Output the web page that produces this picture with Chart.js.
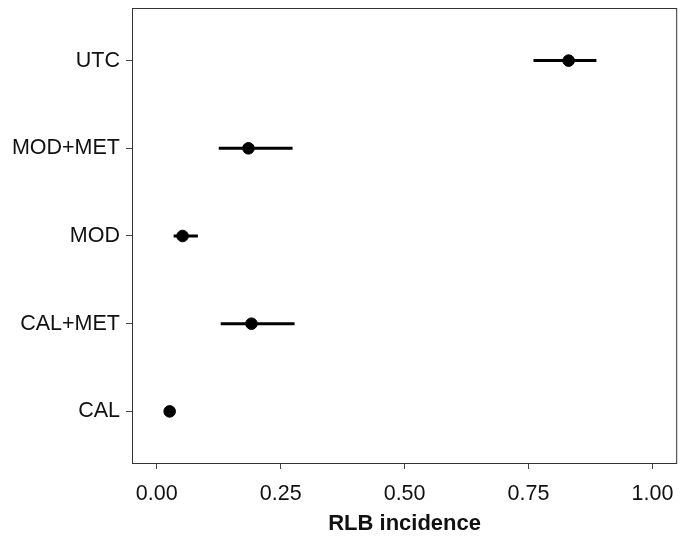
<!DOCTYPE html>
<html>
<head>
<meta charset="utf-8">
<script src="https://cdn.jsdelivr.net/npm/chart.js@4"></script>
<style>
  html, body { margin: 0; padding: 0; background: #fff; }
  #wrap { width: 684px; height: 546px; }
</style>
</head>
<body>
<div id="wrap"><canvas id="chart" width="684" height="546"></canvas></div>
<script>
'use strict';

// Gruppen von oben nach unten
const groups = ['UTC', 'MOD+MET', 'MOD', 'CAL+MET', 'CAL'];
// Punktschätzer und Intervallgrenzen (RLB incidence)
const estimate = [0.831, 0.185, 0.052, 0.191, 0.026];
const lower = [0.760, 0.125, 0.034, 0.129, 0.018];
const upper = [0.887, 0.274, 0.083, 0.278, 0.035];
const xTicks = [0, 0.25, 0.5, 0.75, 1];

// y-Position: oberste Gruppe = höchster Wert
const yPos = groups.map((g, i) => groups.length - i);

// Rahmen um die Plotfläche
const boxPlugin = {
  id: 'box',
  afterDraw(chart) {
    const { ctx, chartArea: a } = chart;
    ctx.save();
    ctx.strokeStyle = '#333';
    ctx.lineWidth = 1;
    ctx.strokeRect(a.left + 0.5, a.top + 0.5, a.right - a.left - 1, a.bottom - a.top - 1);
    ctx.restore();
  }
};

const intervalSets = groups.map((g, i) => ({
  type: 'line',
  label: g,
  data: [{ x: lower[i], y: yPos[i] }, { x: upper[i], y: yPos[i] }],
  borderColor: '#000',
  borderWidth: 3,
  pointRadius: 0,
  order: 1
}));

new Chart(document.getElementById('chart').getContext('2d'), {
  type: 'scatter',
  data: {
    datasets: [
      {
        label: 'estimate',
        data: estimate.map((v, i) => ({ x: v, y: yPos[i] })),
        backgroundColor: '#000',
        borderColor: '#000',
        pointRadius: 5.8,
        order: 0
      },
      ...intervalSets
    ]
  },
  options: {
    responsive: false,
    animation: false,
    layout: { padding: { top: 8, right: 5, left: 0, bottom: 0 } },
    plugins: {
      legend: { display: false },
      tooltip: { enabled: false }
    },
    scales: {
      x: {
        type: 'linear',
        min: -0.05,
        max: 1.05,
        afterBuildTicks: axis => { axis.ticks = xTicks.map(v => ({ value: v })); },
        afterFit: axis => {
          axis.height = 82;
          axis.paddingLeft = 0;
          axis.paddingRight = 0;
        },
        grid: { drawOnChartArea: false, drawTicks: true, tickLength: 5, color: '#444' },
        border: { display: false },
        ticks: {
          color: '#111',
          padding: 12,
          maxRotation: 0,
          font: { family: 'Liberation Sans', size: 21.5 },
          callback: v => v.toFixed(2)
        },
        title: {
          display: true,
          text: 'RLB incidence',
          color: '#111',
          padding: { top: 4, bottom: 9 },
          font: { family: 'Liberation Sans', size: 22, weight: 'bold' }
        }
      },
      y: {
        type: 'linear',
        min: 0.4,
        max: 5.6,
        afterBuildTicks: axis => { axis.ticks = yPos.map(v => ({ value: v })); },
        afterFit: axis => {
          axis.width = 132;
          axis.paddingTop = 0;
          axis.paddingBottom = 0;
        },
        grid: { drawOnChartArea: false, drawTicks: true, tickLength: 6, color: '#444' },
        border: { display: false },
        ticks: {
          color: '#111',
          padding: 6,
          font: { family: 'Liberation Sans', size: 21.5 },
          callback: v => groups[groups.length - v]
        }
      }
    }
  },
  plugins: [boxPlugin]
});
</script>
</body>
</html>
